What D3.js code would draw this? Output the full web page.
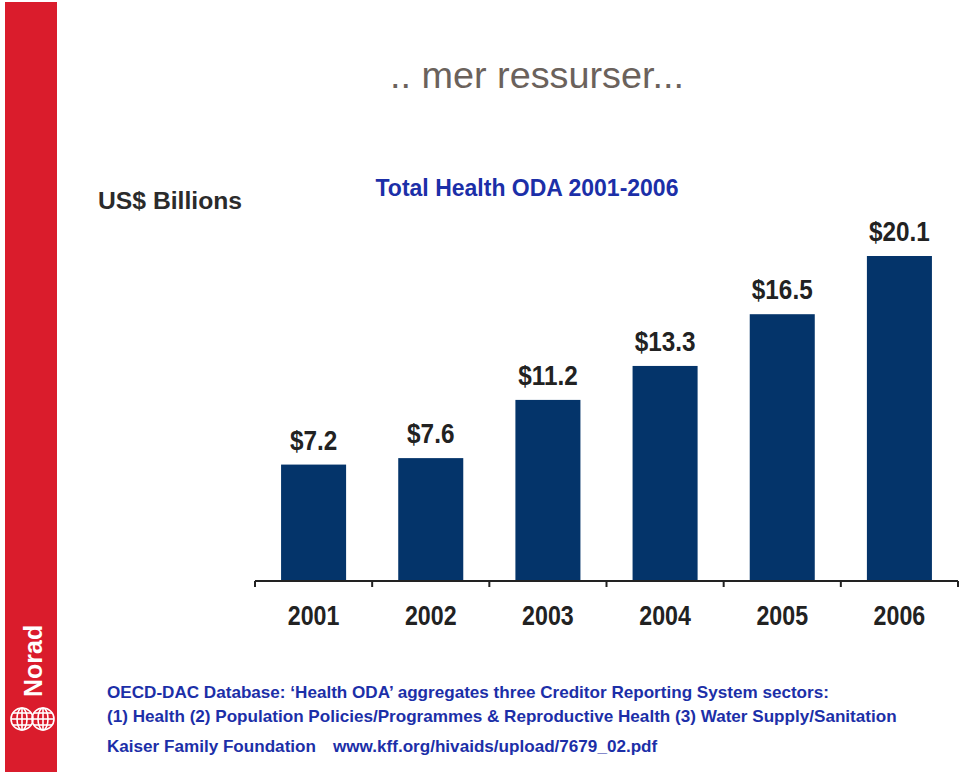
<!DOCTYPE html>
<html><head><meta charset="utf-8">
<script src="https://cdn.jsdelivr.net/npm/d3@7"></script>
<style>body{margin:0;background:#fff}svg{display:block}</style>
</head><body>
<svg id="c" width="960" height="774"></svg>
<script>
const years = ["2001","2002","2003","2004","2005","2006"];
const values = [7.2, 7.6, 11.2, 13.3, 16.5, 20.1];
const valueLabels = ["$7.2","$7.6","$11.2","$13.3","$16.5","$20.1"];
const footLines = [
  "OECD-DAC Database: \u2018Health ODA\u2019 aggregates three Creditor Reporting System sectors:",
  "(1) Health (2) Population Policies/Programmes & Reproductive Health (3) Water Supply/Sanitation"
];
const source = "Kaiser Family Foundation";
const url = "www.kff.org/hivaids/upload/7679_02.pdf";

const svg = d3.select("#c");
svg.append("rect").attr("x",0).attr("y",0).attr("width",960).attr("height",774).attr("fill","#fff");

// left red band
svg.append("rect").attr("x",5).attr("y",2).attr("width",52).attr("height",770).attr("fill","#da1c2c");
svg.append("text").attr("transform","translate(42,697) rotate(-90)")
  .attr("font-family","Liberation Sans, Arial, sans-serif").attr("font-weight","bold")
  .attr("font-size",25).attr("fill","#fff").text("Norad");
// globe logo
const logo = svg.append("g").attr("stroke","#fff").attr("fill","none").attr("stroke-width",1.6);
[[22,719],[43,719]].forEach(([cx,cy])=>{
  logo.append("circle").attr("cx",cx).attr("cy",cy).attr("r",11);
  logo.append("ellipse").attr("cx",cx).attr("cy",cy).attr("rx",5).attr("ry",11);
  logo.append("line").attr("x1",cx-11).attr("x2",cx+11).attr("y1",cy).attr("y2",cy);
  logo.append("line").attr("x1",cx).attr("x2",cx).attr("y1",cy-11).attr("y2",cy+11);
  logo.append("line").attr("x1",cx-9).attr("x2",cx+9).attr("y1",cy-6).attr("y2",cy-6);
  logo.append("line").attr("x1",cx-9).attr("x2",cx+9).attr("y1",cy+6).attr("y2",cy+6);
});

// slide title
svg.append("text").attr("x",537).attr("y",88).attr("text-anchor","middle")
  .attr("font-family","Liberation Sans, Arial, sans-serif").attr("font-size",37.8)
  .attr("fill","#6b625c").text(".. mer ressurser...");

// chart titles
svg.append("text").attr("x",98).attr("y",209)
  .attr("font-family","Liberation Sans, Arial, sans-serif").attr("font-weight","bold")
  .attr("font-size",24.7).attr("fill","#2b2b2b").text("US$ Billions");
svg.append("text").attr("x",527).attr("y",196).attr("text-anchor","middle")
  .attr("font-family","Liberation Sans, Arial, sans-serif").attr("font-weight","bold")
  .attr("font-size",23).attr("fill","#1c2fa8").text("Total Health ODA 2001-2006");

// scales
const x = d3.scaleBand().domain(years).range([255,958]).paddingInner(0.445).paddingOuter(0.2225);
const y = d3.scaleLinear().domain([0,20.1]).range([581,256]);

svg.append("g").selectAll("rect").data(values).join("rect")
  .attr("x",(d,i)=>x(years[i])).attr("width",x.bandwidth())
  .attr("y",d=>y(d)).attr("height",d=>y(0)-y(d)).attr("fill","#04346a");

svg.append("g").selectAll("text").data(values).join("text")
  .attr("transform",(d,i)=>`translate(${x(years[i])+x.bandwidth()/2},${y(d)-15}) scale(0.9,1)`)
  .attr("text-anchor","middle")
  .attr("font-family","Liberation Sans, Arial, sans-serif")
  .attr("font-weight","bold").attr("font-size",27).attr("fill","#222")
  .text((d,i)=>valueLabels[i]);

// axis
const axisG = svg.append("g").attr("transform","translate(0,581)");
axisG.append("line").attr("x1",255).attr("x2",958).attr("stroke","#222").attr("stroke-width",2);
const tickPos = d3.range(years.length+1).map(i=>255+i*(703/years.length));
axisG.selectAll("line.t").data(tickPos).join("line").attr("class","t")
  .attr("x1",d=>d).attr("x2",d=>d).attr("y1",0).attr("y2",6).attr("stroke","#222").attr("stroke-width",2);
axisG.selectAll("text").data(years).join("text")
  .attr("transform",d=>`translate(${x(d)+x.bandwidth()/2},44) scale(0.86,1)`)
  .attr("text-anchor","middle")
  .attr("font-family","Liberation Sans, Arial, sans-serif")
  .attr("font-weight","bold").attr("font-size",27).attr("fill","#222").text(d=>d);

// footnotes
const foot = svg.append("g").attr("font-family","Liberation Sans, Arial, sans-serif")
  .attr("font-weight","bold").attr("font-size",17.1).attr("fill","#1c2fa8");
foot.append("text").attr("x",107).attr("y",698).text(footLines[0]);
foot.append("text").attr("x",107).attr("y",722).text(footLines[1]);
foot.append("text").attr("x",107).attr("y",752).text(source);
foot.append("text").attr("x",333).attr("y",752).text(url);
</script>
</body></html>
